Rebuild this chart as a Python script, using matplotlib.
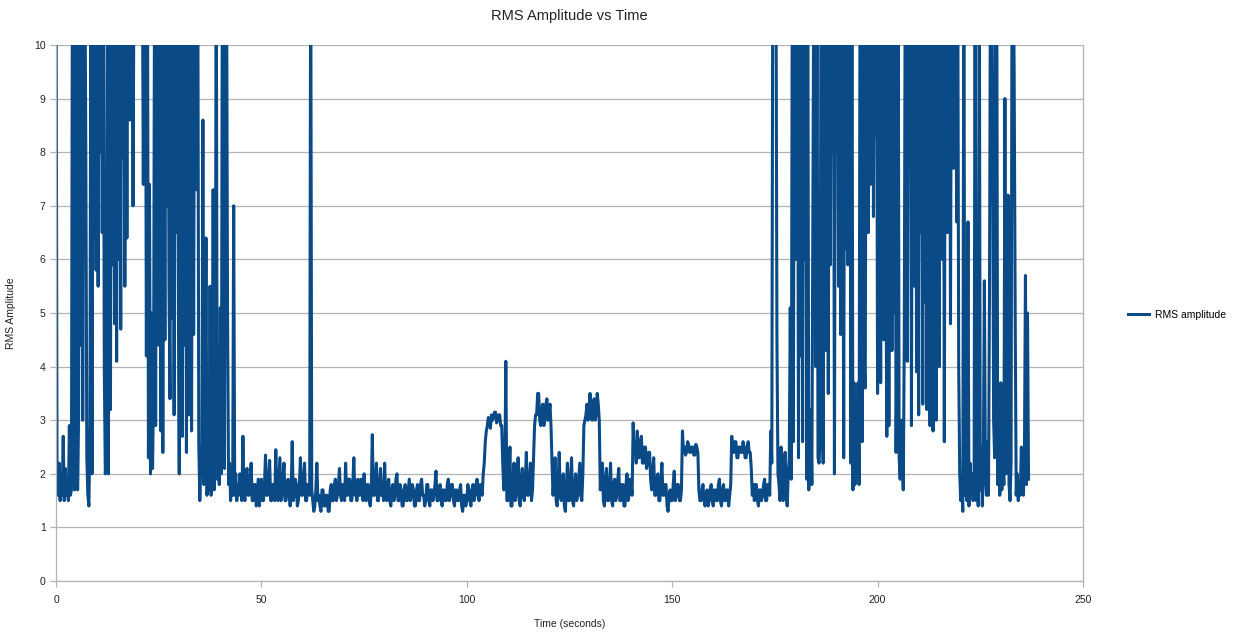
import matplotlib
matplotlib.use("Agg")
import matplotlib.pyplot as plt
import numpy as np

plt.rcParams['font.family'] = ['Liberation Sans', 'DejaVu Sans']

# RMS readings every 0.25 s; 12 marks values above the 0-10 scale
DT = 0.25
rms_start = [  # t = 0 .. 44.75 s
    12, 1.8, 1.6, 2.2, 1.5, 2.0, 1.6, 2.7, 1.5, 2.1,
    1.6, 1.9, 1.5, 2.9, 1.6, 1.7, 12, 12, 1.7, 1.8,
    12, 1.7, 3.1, 12, 4.4, 12, 3.0, 12, 12, 8.1,
    2.3, 1.6, 1.4, 2.9, 12, 2.0, 12, 6.4, 12, 5.8,
    12, 5.5, 12, 8.0, 12, 6.5, 12, 4.0, 2.0, 2.3,
    12, 2.0, 12, 3.2, 12, 5.9, 12, 4.8, 12, 4.1,
    12, 6.0, 12, 4.7, 12, 7.9, 12, 5.5, 12, 6.4,
    12, 12, 8.6, 12, 12, 7.0, 12, 12, 12, 12,
    12, 12, 12, 12, 12, 7.4, 12, 12, 4.2, 12,
    2.3, 7.4, 2.0, 5.0, 2.1, 3.6, 12, 2.9, 12, 12,
    4.4, 12, 2.8, 12, 2.4, 12, 4.5, 12, 7.0, 12,
    5.5, 3.4, 12, 4.9, 12, 3.1, 12, 6.5, 12, 5.8,
    2.0, 12, 6.0, 2.7, 12, 4.4, 12, 2.4, 12, 3.1,
    12, 5.0, 2.8, 12, 4.6, 12, 7.3, 12, 12, 2.6,
    1.5, 2.2, 2.0, 8.6, 1.8, 2.3, 6.4, 1.6, 2.1, 1.7,
    5.5, 1.6, 2.0, 7.3, 1.7, 2.3, 12, 1.9, 2.4, 1.8,
    5.1, 2.0, 12, 12, 2.1, 12, 12, 5.1, 1.8, 2.2,
    1.5, 2.0, 1.6, 7.0, 1.6, 2.0, 1.5, 1.8, 1.6, 2.0,
]
rms_quiet = [  # t = 45 .. 104.75 s
    1.7, 1.5, 2.7, 1.6, 1.5, 2.0, 2.1, 1.6, 1.6, 1.9,
    2.2, 1.5, 1.5, 1.8, 1.8, 1.4, 1.6, 1.9, 1.4, 1.7,
    1.9, 1.5, 1.5, 1.8, 2.35, 1.6, 1.6, 1.9, 2.25, 1.5,
    1.5, 1.8, 1.7, 1.5, 2.45, 1.6, 1.5, 1.9, 2.3, 1.5,
    1.6, 1.9, 2.2, 1.5, 1.5, 1.8, 1.9, 1.6, 1.4, 1.7,
    2.6, 1.5, 1.6, 1.9, 1.8, 1.4, 1.5, 1.8, 2.3, 1.6,
    1.6, 1.9, 2.2, 1.5, 1.5, 1.8, 1.8, 1.6, 12, 1.7,
    1.5, 1.3, 1.4, 1.7, 2.2, 1.5, 1.6, 1.4, 1.3, 1.7,
    1.7, 1.4, 1.4, 1.6, 1.6, 1.3, 1.3, 1.7, 1.8, 1.5,
    1.5, 1.8, 1.9, 1.5, 1.6, 1.8, 2.1, 1.6, 1.5, 1.8,
    1.8, 1.5, 2.2, 1.6, 1.6, 1.9, 1.9, 1.5, 1.5, 1.8,
    2.3, 1.6, 1.7, 1.5, 1.9, 1.6, 1.6, 1.9, 1.8, 1.5,
    2.0, 1.6, 1.5, 1.8, 1.8, 1.5, 1.4, 1.7, 2.73, 1.6,
    1.6, 1.9, 2.2, 1.5, 1.5, 1.8, 2.1, 1.6, 1.7, 1.5,
    2.2, 1.6, 1.5, 1.8, 1.9, 1.5, 1.4, 1.7, 1.8, 1.5,
    1.6, 1.9, 2.0, 1.5, 1.5, 1.8, 1.7, 1.4, 1.4, 1.7,
    1.8, 1.5, 1.5, 1.7, 1.9, 1.5, 1.6, 1.8, 1.7, 1.4,
    1.4, 1.7, 1.8, 1.5, 1.5, 1.8, 1.9, 1.6, 1.6, 1.4,
    1.5, 1.8, 1.8, 1.5, 1.4, 1.7, 1.7, 1.5, 1.6, 1.8,
    2.05, 1.5, 1.5, 1.7, 1.8, 1.5, 1.4, 1.7, 1.7, 1.5,
    1.5, 1.8, 1.9, 1.5, 1.6, 1.8, 1.8, 1.5, 1.4, 1.7,
    1.7, 1.5, 1.5, 1.7, 1.8, 1.4, 1.3, 1.6, 1.6, 1.4,
    1.5, 1.8, 1.7, 1.5, 1.4, 1.7, 1.8, 1.5, 1.6, 1.8,
    1.9, 1.6, 1.5, 1.8, 1.7, 1.6, 2.0, 2.2, 2.6, 2.8,
]
rms_steps = [  # t = 105 .. 174.75 s
    2.9, 3.05, 3.0, 2.85, 3.1, 3.0, 3.05, 3.15, 3.15, 2.95,
    3.0, 3.1, 3.1, 2.9, 2.9, 2.2, 1.7, 1.9, 4.1, 1.5,
    1.5, 2.0, 2.5, 1.4, 1.4, 1.9, 2.2, 1.5, 1.6, 2.0,
    2.3, 1.5, 1.4, 1.9, 2.1, 1.6, 1.5, 1.9, 2.4, 1.6,
    1.6, 1.9, 2.2, 1.5, 1.7, 2.3, 2.9, 3.1, 3.1, 3.5,
    3.5, 3.0, 2.9, 3.2, 3.3, 2.9, 3.0, 3.3, 3.4, 3.0,
    3.1, 3.3, 2.9, 2.2, 1.6, 2.0, 2.3, 1.5, 1.4, 1.9,
    2.4, 1.6, 1.5, 1.9, 2.0, 1.4, 1.3, 1.8, 2.2, 1.5,
    1.5, 1.9, 2.3, 1.5, 1.4, 1.8, 2.0, 1.5, 1.6, 1.9,
    2.2, 1.6, 1.5, 2.0, 2.9, 3.0, 3.1, 3.3, 3.0, 3.2,
    3.5, 3.1, 3.0, 3.3, 3.4, 3.0, 3.1, 3.5, 3.3, 3.0,
    1.7, 2.1, 2.2, 1.5, 1.4, 1.9, 2.1, 1.5, 1.5, 1.8,
    2.2, 1.5, 1.4, 1.8, 1.9, 1.5, 1.6, 1.9, 2.1, 1.5,
    1.5, 1.8, 1.8, 1.4, 1.4, 1.8, 2.0, 1.5, 1.6, 1.9,
    1.8, 1.6, 2.95, 2.4, 2.6, 2.2, 2.8, 2.3, 2.3, 2.6,
    2.7, 2.2, 2.2, 2.5, 2.5, 2.1, 2.2, 2.4, 2.4, 1.9,
    1.7, 2.0, 2.3, 1.6, 1.6, 1.9, 2.0, 1.5, 1.5, 1.9,
    2.2, 1.6, 1.6, 1.8, 1.8, 1.4, 1.3, 1.6, 1.7, 1.5,
    1.5, 1.8, 2.05, 1.5, 1.6, 1.8, 1.8, 1.5, 1.5, 1.7,
    2.8, 2.4, 2.5, 2.35, 2.4, 2.6, 2.55, 2.4, 2.4, 2.5,
    2.5, 2.35, 2.35, 2.55, 2.5, 2.4, 1.7, 1.5, 1.5, 1.7,
    1.8, 1.5, 1.4, 1.6, 1.7, 1.4, 1.5, 1.7, 1.8, 1.5,
    1.4, 1.7, 1.7, 1.5, 1.5, 1.8, 1.9, 1.5, 1.4, 1.7,
    1.8, 1.5, 1.5, 1.7, 1.7, 1.4, 1.6, 1.8, 2.7, 2.4,
    2.4, 2.6, 2.6, 2.3, 2.3, 2.5, 2.5, 2.4, 2.4, 2.6,
    2.5, 2.3, 2.3, 2.5, 2.6, 2.4, 2.4, 2.1, 1.6, 1.8,
    1.5, 1.8, 1.8, 1.5, 1.4, 1.7, 1.7, 1.5, 1.6, 1.8,
    1.9, 1.5, 1.5, 1.8, 1.8, 1.6, 2.8, 2.2, 12, 12,
]
rms_end = [  # t = 175 .. 236.75 s
    12, 12, 4.5, 2.0, 1.8, 1.5, 2.5, 1.7, 1.5, 2.2,
    2.4, 1.6, 1.4, 2.0, 2.3, 5.1, 1.9, 12, 2.6, 12,
    6.0, 12, 12, 2.3, 12, 4.2, 12, 2.6, 12, 6.0,
    12, 1.9, 12, 1.7, 2.4, 3.2, 1.8, 7.1, 12, 12,
    4.0, 12, 2.3, 2.2, 2.6, 12, 12, 2.2, 12, 7.0,
    4.3, 12, 3.5, 12, 5.9, 12, 8.0, 12, 2.0, 12,
    8.9, 12, 5.5, 12, 4.6, 12, 12, 2.3, 12, 6.2,
    12, 5.9, 12, 12, 2.2, 12, 1.7, 3.7, 1.8, 3.3,
    2.0, 3.7, 1.8, 12, 12, 2.6, 12, 4.0, 3.6, 12,
    12, 6.5, 12, 7.4, 12, 12, 6.8, 12, 8.3, 12,
    3.5, 12, 12, 3.7, 12, 12, 4.5, 12, 6.5, 2.7,
    12, 2.9, 12, 12, 4.3, 12, 5.0, 12, 2.4, 4.8,
    12, 2.3, 1.9, 3.0, 2.4, 1.7, 4.5, 12, 12, 4.1,
    12, 8.0, 12, 2.9, 12, 12, 5.5, 12, 3.9, 12,
    3.1, 12, 6.5, 12, 3.3, 12, 5.2, 12, 3.2, 12,
    4.4, 2.9, 12, 12, 2.8, 12, 6.0, 3.0, 12, 12,
    4.0, 12, 12, 6.0, 12, 2.6, 12, 12, 6.5, 12,
    12, 4.8, 12, 12, 7.7, 12, 12, 6.7, 12, 4.0,
    2.0, 1.5, 1.8, 1.3, 12, 1.6, 2.2, 1.5, 6.7, 1.4,
    2.2, 1.6, 2.0, 1.5, 1.8, 12, 1.5, 2.1, 1.4, 12,
    1.7, 2.5, 1.4, 2.2, 5.6, 2.0, 1.6, 2.6, 1.6, 5.5,
    12, 12, 8.6, 3.0, 2.3, 12, 12, 1.8, 2.5, 1.6,
    3.7, 1.7, 2.2, 1.8, 9.0, 2.0, 3.5, 7.2, 1.8, 1.5,
    2.2, 12, 12, 9.5, 5.0, 1.6, 2.0, 1.5, 1.8, 1.6,
    2.5, 1.8, 1.6, 2.3, 5.7, 1.8, 5.0, 1.9,
]

rms = np.array(rms_start + rms_quiet + rms_steps + rms_end, dtype=float)
time_s = np.arange(len(rms)) * DT

line_color = '#0a4a87'
grid_color = '#b3b3b3'
text_color = '#222222'

fig = plt.figure(figsize=(12.34, 6.33), dpi=100)
ax = fig.add_axes([0.0454, 0.0821, 0.8322, 0.8468])

ax.plot(time_s, rms, color=line_color, linewidth=2.2, label='RMS amplitude')

ax.set_xlim(0, 250)
ax.set_ylim(0, 10)
ax.set_xticks(np.arange(0, 251, 50))
ax.set_yticks(np.arange(0, 11, 1))
ax.yaxis.grid(True, color=grid_color, linewidth=0.9)
ax.set_axisbelow(True)

for side in ['left', 'bottom', 'right', 'top']:
    ax.spines[side].set_color(grid_color)
    ax.spines[side].set_linewidth(0.9)
ax.spines['top'].set_visible(False)

ax.tick_params(axis='both', colors=grid_color, labelcolor=text_color,
               labelsize=7.5, length=4, width=0.9)
ax.tick_params(axis='x', pad=6)

ax.set_title('RMS Amplitude vs Time', fontsize=10.5, color=text_color, pad=18)
ax.set_xlabel('Time (seconds)', fontsize=7.5, color=text_color, labelpad=10)
ax.set_ylabel('RMS Amplitude', fontsize=7.5, color=text_color, labelpad=13)

ax.legend(loc='center left', bbox_to_anchor=(1.035, 0.497), frameon=False,
          fontsize=7.5, handlelength=2.0, handletextpad=0.6)

fig.savefig('out.png', dpi=100)
